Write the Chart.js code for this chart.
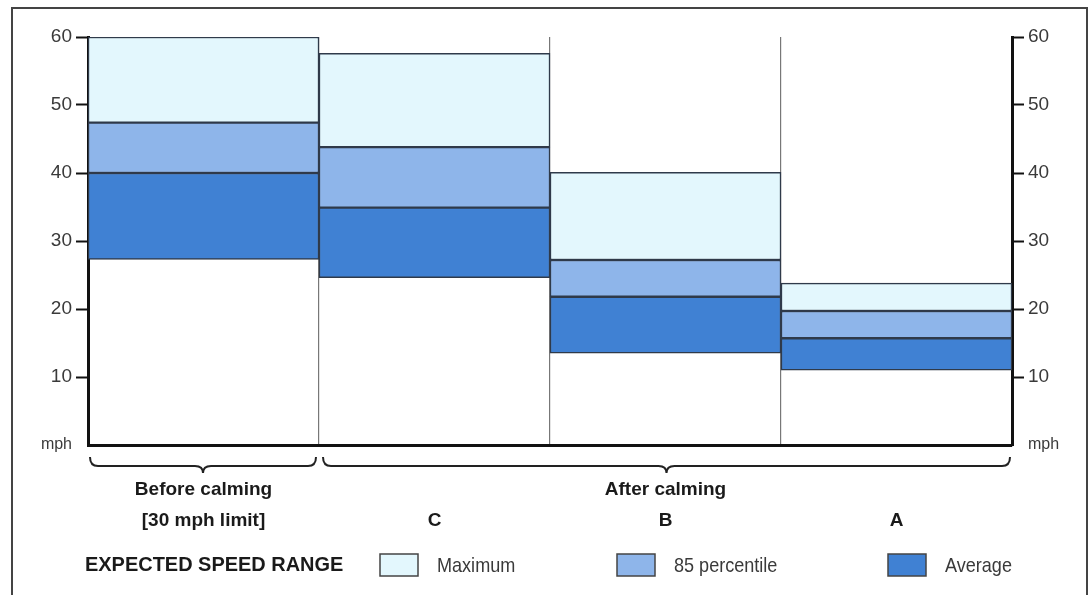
<!DOCTYPE html>
<html>
<head>
<meta charset="utf-8">
<script src="https://cdn.jsdelivr.net/npm/chart.js@4.4.1/dist/chart.umd.min.js"></script>
<style>
  html, body { margin: 0; padding: 0; background: #fff; }
  #wrap { position: relative; width: 1092px; height: 595px; }
</style>
</head>
<body>
<div id="wrap"><canvas id="speedChart"></canvas></div>
<script>
// Chart data
const categories = [
  ["Before calming", "[30 mph limit]"],
  ["", "C"],
  ["After calming", "B"],
  ["", "A"],
];
const minSpeed = [27.3, 24.6, 13.5, 11.0];
const avgSpeed = [40.0, 34.9, 21.8, 15.7];
const p85Speed = [47.4, 43.8, 27.2, 19.7];
const maxSpeed = [60.0, 57.6, 40.1, 23.8];
const yTicks = [0, 10, 20, 30, 40, 50, 60];
const seriesNames = ["Maximum", "85 percentile", "Average"];

const FONT = "'Liberation Sans', Arial, Helvetica, sans-serif";
const colMax = "#e3f7fd";
const colP85 = "#8eb5ea";
const colAvg = "#4081d3";
const edge = "#2f3a4a";

// pairs for floating bars
const pairs = (lo, hi) => lo.map((v, i) => [v, hi[i]]);

// Braces, legend and frame
const extras = {
  id: "extras",
  beforeDraw(chart) {
    const ctx = chart.ctx;
    ctx.save();
    ctx.strokeStyle = "#444";
    ctx.lineWidth = 2;
    ctx.strokeRect(12, 8, 1075, 640);
    ctx.restore();
  },
  afterDraw(chart) {
    const ctx = chart.ctx;
    const { left, right, bottom } = chart.chartArea;
    const x = chart.scales.x;
    const b1 = (x.getPixelForValue(0) + x.getPixelForValue(1)) / 2;

    // curly braces under the axis
    function brace(x1, x2) {
      const yTop = bottom + 12, yLine = bottom + 21, yTip = bottom + 28, r = 8;
      const mid = (x1 + x2) / 2;
      ctx.beginPath();
      ctx.moveTo(x1, yTop);
      ctx.quadraticCurveTo(x1, yLine, x1 + r, yLine);
      ctx.lineTo(mid - r, yLine);
      ctx.quadraticCurveTo(mid, yLine, mid, yTip);
      ctx.quadraticCurveTo(mid, yLine, mid + r, yLine);
      ctx.lineTo(x2 - r, yLine);
      ctx.quadraticCurveTo(x2, yLine, x2, yTop);
      ctx.stroke();
    }
    ctx.save();
    ctx.strokeStyle = "#222";
    ctx.lineWidth = 2;
    brace(left + 2, b1 - 3);
    brace(b1 + 4, right - 2);
    ctx.restore();

    // legend
    function narrowText(text, tx, ty, font, sx) {
      ctx.save();
      ctx.translate(tx, ty);
      ctx.scale(sx, 1);
      ctx.font = font;
      ctx.fillText(text, 0, 0);
      ctx.restore();
    }
    ctx.save();
    ctx.textBaseline = "middle";
    ctx.textAlign = "left";
    ctx.fillStyle = "#1a1a1a";
    narrowText("EXPECTED SPEED RANGE", 85, 565, "bold 21px " + FONT, 0.95);
    const legendX = [380, 617, 888];
    const fills = [colMax, colP85, colAvg];
    seriesNames.forEach((name, i) => {
      ctx.fillStyle = fills[i];
      ctx.fillRect(legendX[i], 554, 38, 22);
      ctx.strokeStyle = "#444";
      ctx.lineWidth = 1.5;
      ctx.strokeRect(legendX[i], 554, 38, 22);
      ctx.fillStyle = "#3a3a3a";
      narrowText(name, legendX[i] + 57, 566, "21px " + FONT, 0.86);
    });
    ctx.restore();
  },
};

const tickFont = (c) =>
  c.tick && c.tick.value === 0
    ? { family: FONT, size: 16 }
    : { family: FONT, size: 19 };
const tickMark = (c) =>
  c.tick && c.tick.value === 0 ? "rgba(0,0,0,0)" : "#111";

function yAxis(position, width) {
  return {
    position: position,
    min: 0,
    max: 60,
    afterBuildTicks(scale) {
      scale.ticks = yTicks.map((v) => ({ value: v }));
    },
    afterFit(scale) {
      scale.width = width;
    },
    ticks: {
      callback: (v) => (v === 0 ? "mph" : v),
      font: tickFont,
      color: "#3a3a3a",
      padding: 4,
    },
    grid: {
      drawOnChartArea: false,
      drawTicks: true,
      tickLength: 12,
      tickWidth: 2,
      tickColor: tickMark,
    },
    border: { display: true, color: "#111", width: 3 },
  };
}

const barStyle = {
  grouped: false,
  barPercentage: 1,
  categoryPercentage: 1,
  borderColor: edge,
  borderWidth: 1.5,
  borderSkipped: false,
};

new Chart(document.getElementById("speedChart").getContext("2d"), {
  type: "bar",
  data: {
    labels: categories,
    datasets: [
      Object.assign({ label: seriesNames[2], data: pairs(minSpeed, avgSpeed), backgroundColor: colAvg }, barStyle),
      Object.assign({ label: seriesNames[1], data: pairs(avgSpeed, p85Speed), backgroundColor: colP85 }, barStyle),
      Object.assign({ label: seriesNames[0], data: pairs(p85Speed, maxSpeed), backgroundColor: colMax }, barStyle),
    ],
  },
  options: {
    responsive: true,
    maintainAspectRatio: false,
    animation: false,
    layout: { padding: { top: 37, left: 0, right: 0, bottom: 0 } },
    plugins: {
      legend: { display: false },
      tooltip: { enabled: false },
    },
    scales: {
      x: {
        offset: true,
        afterFit(scale) {
          scale.height = 150;
        },
        grid: {
          offset: true,
          color: "#777",
          lineWidth: 1.2,
          drawTicks: false,
        },
        border: { display: true, color: "#111", width: 3 },
        ticks: {
          autoSkip: false,
          maxRotation: 0,
          padding: 30,
          color: "#1a1a1a",
          font: { family: FONT, size: 19, weight: "bold", lineHeight: 1.6 },
        },
      },
      y: yAxis("left", 88),
      y2: yAxis("right", 80),
    },
  },
  plugins: [extras],
});
</script>
</body>
</html>
